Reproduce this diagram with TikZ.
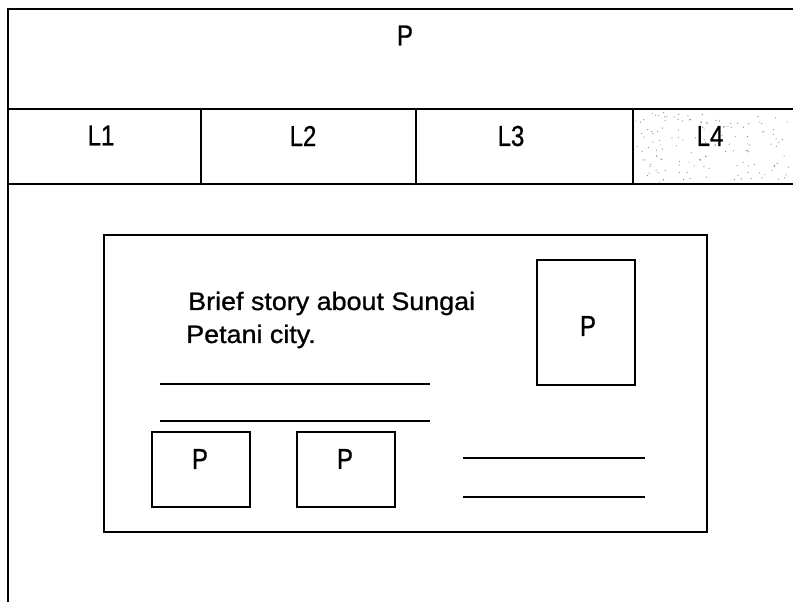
\documentclass[tikz,border=0pt]{standalone}
\usepackage{fontspec}
\setmainfont[FakeBold=0.9]{Liberation Sans}
\newcommand{\lbltext}[1]{\scalebox{1}[1.2]{#1}}
\newcommand{\bodytext}[1]{\scalebox{1.12}[1.05]{#1}}
\begin{document}
\begin{tikzpicture}[x=0.75pt,y=-0.75pt,
  frame/.style={line width=1.8pt},
  rule/.style={line width=1.5pt},
  lbl/.style={font=\fontsize{18}{22}\selectfont, inner sep=0pt},
  pbox/.style={draw, line width=1.5pt, inner sep=0pt},
  body/.style={font=\fontsize{18}{22}\selectfont, inner sep=0pt}]
\useasboundingbox (0,0) rectangle (793,602);
% outer frame and header bands
\draw[frame] (793,9) -- (8,9) -- (8,602);
\draw[frame] (8,109) -- (793,109);
\draw[frame] (8,184) -- (793,184);
\draw[frame] (201,109) -- (201,184);
\draw[frame] (416,109) -- (416,184);
\draw[frame] (633,109) -- (633,184);
% speckled L4 cell
\pgfmathsetseed{7}
\foreach \i in {1,...,140} {
  \fill[black!50] ({636+155*rnd},{112+70*rnd}) circle (0.45pt);
}
% labels
\node[lbl] (ptop) at (405,35.5) {\lbltext{P}};
\node[lbl] (l1) at (101,135.5) {\lbltext{L1}};
\node[lbl] (l2) at (303,136) {\lbltext{L2}};
\node[lbl] (l3) at (511,136) {\lbltext{L3}};
\node[lbl] (l4) at (710,136) {\lbltext{L4}};
% inner panel
\node[pbox, minimum width=603*0.75pt, minimum height=297*0.75pt, line width=1.8pt] (panel) at (405.5,383.5) {};
\node[body, anchor=base west] (story1) at (188,310) {\bodytext{Brief story about Sungai}};
\node[body, anchor=base west] (story2) at (186,343) {\bodytext{Petani city.}};
% photo boxes
\node[pbox, minimum width=98*0.75pt, minimum height=125*0.75pt] (photo) at (586,322.5) {};
\node[lbl] (photop) at (588,326) {\lbltext{P}};
\node[pbox, minimum width=98*0.75pt, minimum height=75*0.75pt] (sm1) at (201,469.5) {};
\node[lbl] (sm1p) at (200,459) {\lbltext{P}};
\node[pbox, minimum width=98*0.75pt, minimum height=75*0.75pt] (sm2) at (346,469.5) {};
\node[lbl] (sm2p) at (345,459) {\lbltext{P}};
% text rules
\draw[rule] (160,384) -- (430,384);
\draw[rule] (160,421) -- (430,421);
\draw[rule] (463,458) -- (645,458);
\draw[rule] (463,497) -- (645,497);
\end{tikzpicture}
\end{document}
